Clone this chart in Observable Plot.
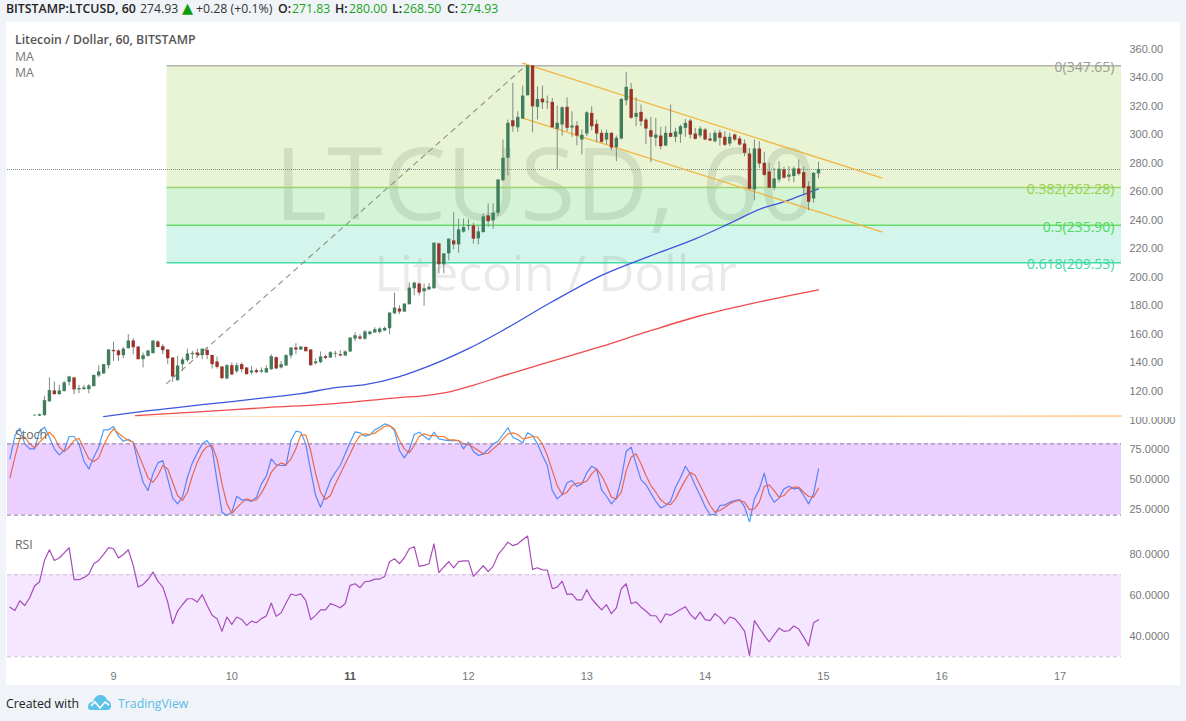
<!DOCTYPE html>
<html>
<head>
<meta charset="utf-8">
<script src="https://cdn.jsdelivr.net/npm/d3@7"></script>
<script src="https://cdn.jsdelivr.net/npm/@observablehq/plot@0.6"></script>
<style>
html,body{margin:0;padding:0;background:#f0f3f8;width:1186px;height:721px;overflow:hidden;font-family:"Open Sans",sans-serif}
#panel{position:absolute;left:6px;top:22px;width:1174px;height:663px;background:#fff}
#root svg{position:absolute;left:0;background:transparent}
.t{position:absolute;white-space:nowrap;line-height:16px}
</style>
</head>
<body>
<div id="panel"></div>
<div id="root"></div>
<div id="labels"></div>
<script>
// hourly candles, first one at hour -16 relative to day 9
const firstHour = -16;
const opens = [102.2,102.0,102.4,112.0,119.7,117.1,119.2,125.7,128.8,120.4,120.6,120.6,122.7,130.2,131.6,137.4,148.1,147.7,144.4,149.3,154.7,150.5,141.6,143.9,145.8,154.0,150.7,148.4,142.8,126.9,138.1,140.9,145.1,146.3,144.4,148.1,144.6,140.0,136.5,128.1,
137.4,133.2,138.1,135.8,132.3,133.9,133.0,132.3,134.6,143.0,135.8,137.2,144.2,149.8,148.4,150.2,148.4,138.8,139.5,143.7,142.8,145.4,145.1,144.2,147.0,156.0,157.5,156.0,159.3,160.3,
160.7,161.7,163.3,173.8,177.1,175.0,180.1,191.3,194.6,189.2,190.6,191.3,222.8,208.1,215.8,224.9,222.1,231.0,234.9,235.4,226.3,230.7,242.4,238.9,244.3,267.1,282.8,309.1,304.2,310.3,
326.6,347.6,318.5,324.3,321.7,322.0,303.1,306.1,318.5,304.0,305.4,295.6,299.8,314.3,306.6,300.3,295.6,300.3,290.2,296.3,323.1,331.0,311.5,315.0,309.6,302.1,296.8,298.4,291.4,300.3,
297.5,299.3,303.8,308.9,299.8,298.4,302.6,296.3,294.4,300.5,297.5,292.8,299.1,296.3,292.8,285.8,260.6,289.3,279.3,273.2,261.8,267.6,274.6,269.5,270.0,275.3,272.7,262.9,254.3,271.83];
const highs = [102.9,103.5,115.9,128.8,126.0,123.6,126.4,130.0,129.2,123.6,123.6,124.1,130.6,137.4,138.1,148.6,154.0,148.6,150.2,159.1,156.3,150.5,146.3,148.1,154.7,154.9,152.1,148.6,142.8,143.9,142.8,149.0,147.4,149.0,149.0,149.8,144.6,143.5,136.5,138.1,
139.3,139.3,139.3,135.8,136.9,135.1,135.8,137.4,145.1,143.5,140.4,145.1,149.8,152.8,150.5,150.5,148.6,142.3,147.0,144.6,147.2,147.4,147.9,147.9,156.8,160.5,159.1,162.1,161.4,164.0,
164.0,164.5,174.3,188.3,179.4,180.6,195.3,196.0,195.3,194.6,194.8,223.3,223.3,215.8,226.1,244.7,240.1,240.3,240.1,237.3,234.9,243.8,250.8,250.8,267.6,295.6,309.6,335.3,315.4,333.4,
347.65,347.65,332.9,333.4,326.4,324.8,319.4,318.9,325.2,315.4,308.4,302.6,315.4,318.9,309.6,302.6,302.6,300.7,298.4,324.8,343.0,335.3,325.2,320.1,310.8,311.5,310.8,304.5,304.9,320.1,
303.8,306.1,310.1,310.1,303.8,304.9,303.8,300.3,301.9,302.6,301.4,300.3,299.8,297.9,295.6,289.8,295.6,294.4,287.0,279.3,275.8,280.4,276.5,276.9,276.9,281.6,276.5,266.4,272.7,280.0];
const lows = [102.0,101.8,101.9,112.0,116.6,116.6,119.0,123.0,117.1,117.8,120.4,117.6,122.5,129.0,131.3,135.0,140.4,140.4,142.3,149.0,145.1,141.4,135.8,143.5,145.8,149.8,145.1,138.1,125.7,126.4,133.4,139.7,141.6,142.8,141.6,141.6,135.0,135.0,127.6,127.6,
130.4,131.8,132.3,130.9,130.9,131.8,131.8,132.0,134.1,134.6,135.1,136.9,142.1,145.1,148.1,147.0,136.9,137.9,138.8,141.6,142.5,142.8,143.5,143.9,146.7,154.2,155.1,155.1,158.4,160.3,
159.6,161.4,159.1,173.1,173.3,174.7,180.1,186.4,186.4,179.0,190.1,191.1,201.6,201.8,210.9,218.6,216.3,230.3,232.1,222.6,222.1,230.3,234.5,233.1,242.0,266.4,270.4,301.0,301.0,310.0,
326.6,300.7,309.6,317.1,317.1,303.8,275.0,298.4,301.4,297.5,291.6,285.1,298.0,302.1,293.7,293.3,292.1,288.1,280.4,295.6,319.6,310.1,305.0,305.0,292.6,279.7,290.9,288.6,290.9,297.5,
293.7,293.3,297.5,296.3,295.6,296.8,295.1,294.7,293.7,291.4,291.0,291.0,294.4,291.4,283.9,260.6,252.9,275.8,269.9,261.8,260.1,265.7,268.3,266.4,265.7,270.4,257.1,245.9,251.3,268.5];
const closes = [102.6,103.0,112.9,119.9,117.1,119.7,125.3,129.5,120.4,121.3,121.8,123.2,130.6,133.0,138.1,148.4,147.2,144.4,149.0,154.7,150.0,141.6,144.4,147.7,154.7,150.2,147.9,142.3,129.5,137.2,141.4,145.6,146.0,144.6,149.0,144.6,138.1,136.2,128.3,137.4,
130.9,137.4,134.6,131.1,133.7,132.5,133.9,135.3,143.7,135.1,138.1,144.4,149.8,148.4,150.5,147.2,137.4,140.0,143.5,142.5,146.5,146.0,144.2,147.0,156.8,158.4,156.1,161.0,161.0,162.6,
163.1,163.5,174.3,177.8,175.0,180.6,191.8,195.3,188.3,191.3,192.5,223.3,208.1,215.8,226.1,222.1,232.6,234.2,235.4,226.1,231.2,241.7,238.4,244.3,267.6,282.8,307.3,304.9,311.5,326.4,
347.6,318.9,324.0,321.7,322.2,304.2,307.3,318.2,303.8,305.4,298.4,298.9,314.7,304.9,299.8,294.0,300.3,290.0,296.8,324.0,332.5,310.8,314.3,308.4,303.3,297.5,299.1,290.9,300.3,297.5,
301.2,304.9,307.3,299.1,296.1,303.3,295.6,294.9,300.3,296.8,291.9,297.5,295.6,292.1,286.3,261.1,289.3,278.8,270.9,261.8,268.3,275.1,268.8,271.1,275.3,271.6,261.8,252.0,272.3,274.93];

// moving averages read at a few hours
const ma1Hours = [-2,4,11,18,24,31,38,45,51,58,61,72,78.5,88.6,98.8,108.9,118,125.2,131.8,135.3,138.7,143];
const ma1Values = [101.7,104.5,107.3,110.1,112.2,115,117.8,122,124.1,129.7,133.2,149.3,161.2,181.5,200.4,214.4,226.3,237.5,248,251.5,255.7,261.3];
const ma2Hours = [4.5,18,31,45,58,63.3,68.4,73.4,78.5,88.6,98.8,108.9,119,129.2,143];
const ma2Values = [102.4,105.2,108,110.8,115,116.4,119.2,124.1,129.7,140.2,150.7,161.9,172.4,180.8,190.6];
const capHours = [4.5,82,204.4];
const capValues = [101.15,101.6,102.1];

// stochastic and RSI, hourly from hour -21
const panelFirstHour = -21;
const stochK = [67.4,87.0,93.2,80,75.8,75.8,90.7,94.0,85.6,75.8,70.7,74.4,86.2,86.2,80,65.4,58.9,68.8,77.2,91.8,91.8,94.6,86.5,82.2,83.9,81.4,63.2,47.7,40.7,54.7,64,65.9,50.5,34.5,29.5,35.1,51.9,64,72.4,80,82.8,75.8,49.1,22.5,19.7,22.5,35.9,32.9,32.9,31.5,35.1,46.3,52.8,67.4,62.3,61.8,61.8,82.8,90.7,89.8,80,57.5,36.5,26.7,37.9,49.1,56.1,61.8,71.6,81.4,90.1,89.3,86.5,87.6,91.8,94,96.8,95.4,91.2,74.4,68.2,74.9,87.9,89.8,
86.5,83.4,89.8,84.2,83.4,82.8,82.8,82.8,75.8,81.4,73.8,70.2,71.6,75.2,80,82.2,87.9,93.5,85.6,83.6,80.8,89.3,87,80,70.2,61.8,40.7,33.7,37.3,47.2,49.1,44.1,46.3,55.6,61.2,58.9,41.3,35.9,29.5,34.5,50.5,73.8,77.2,63.2,49.7,45.8,38.5,31.5,26.1,28.1,31.7,43.5,51.4,61.2,54.7,44.9,36.5,27.2,20.5,20.5,28.1,28.6,30.9,32.3,33.1,27.2,14,33.7,42.1,55.3,37.9,30.9,34.3,42.1,44.4,42.1,42.7,36.5,29.5,37.9,58.9];
const stochD = [51.4,68.8,84.2,85.6,80,76.6,81.4,85.6,89.8,85.6,77.2,73.5,77.2,82.8,84.8,75.8,67.4,65.1,68.2,78.6,87,92.6,89,85.6,82.8,81.4,71.6,61.8,51.4,47.7,53.3,61.8,58.9,47.7,36.5,32.3,39.3,53.3,64.6,73,77.8,78.6,67.4,46.3,29.5,21.6,26.1,30.3,33.7,32.3,32.9,38.5,46.3,56.1,61.2,64,62.3,67.4,75.8,87.6,87.6,74.4,54.7,39.3,33.1,36.5,46.3,54.7,63.2,71.6,80.5,87,88.4,87.9,89,91.8,94.6,95.4,92.6,82.8,75.8,72.4,78.6,86.2,
88.4,87,87,86.2,86.2,83.4,83.4,82.8,80,79.4,77.2,74.4,71.6,72.1,75.8,79.4,84.2,88.4,89.3,87.9,84.2,85,86.2,85.6,80,70.2,57.5,44.9,37.3,39.3,44.9,46.9,47.2,48.6,54.7,58.9,53.3,44.9,35.1,33.7,39.3,57.5,68.8,71.6,63.2,53.3,44.9,39.3,32.9,29.5,28.9,33.7,42.1,49.7,56.1,53.3,44.9,36.5,28.1,22.5,23.9,26.7,29.5,31.5,32.3,30.9,24.7,25.3,30.9,44.1,45.5,40.7,35.1,36.5,41.3,43.5,43.5,39.3,35.7,35.1,42.7];
const rsi = [54.2,52.6,57.3,55,58.8,64.5,66.6,77,82.2,77,78.2,80.7,83.2,67.6,67.6,68.6,70.2,75.4,77,79.9,83.2,82.7,78.2,79.9,82.2,74.6,64,65.3,67.7,71.3,66.9,64,56.7,46.1,52.3,55.5,58.3,58.3,56.7,60.3,55,50.2,48.6,42.4,49.4,45.8,49.4,48.2,45.3,47.4,46.6,48.6,49.9,56.2,49.7,51.5,56.2,60.6,59.9,60.7,57.5,48.1,50.2,52.9,52.9,55.9,55,53.9,55.9,64.8,65.6,63.7,66.6,66.9,67.9,67.9,69.2,76.4,77.8,75.4,78.3,82.7,83.7,74.1,
74.6,75.4,85.1,71,73.8,76.4,73.4,76.4,76.8,76.8,69.2,71.8,74.4,71.5,74.1,79.8,82.7,85.9,84.2,85.1,87.1,88.9,72.6,73.4,72.4,72.3,63.2,64,66.9,60.4,60.7,57.8,57.8,62.7,58.3,55.5,52.9,55.4,51,53.8,63.2,65.6,55.9,56.7,54.2,52.3,50,50,46.6,51,50.2,51.6,53.1,54.4,50.7,48.4,51.8,48.1,47.6,51,49.1,46.1,49.4,48.6,45.8,42.5,30.7,47.6,44,40.4,37.3,40.7,44,42.4,42.7,45,43.5,39.6,35.4,46.6,48.1];

// drawings
const trendHours = [10.75,83.6];
const trendValues = [124.8,347.65];
const channelHours = [83,155.8];
const upperValues = [349.5,269];
const lowerValues = [311,231.2];
const fibLevels = [347.65,262.28,235.90,209.53];
const fibNames = ["0(347.65)","0.382(262.28)","0.5(235.90)","0.618(209.53)"];
const fibLines = ["#b4b4ac","#9bd36c","#62dc62","#45dcaa"];
const fibText = ["#9c9c94","#9bd048","#4ed85e","#3ed8a6"];
const fibFills = ["#e9f4d4","#d4f4d7","#d4f5eb"];
const fibStartHour = 10.85;
const lastPrice = 274.93;

const priceTicks = [120,140,160,180,200,220,240,260,280,300,320,340,360];
const stochTicks = [25,50,75,100];
const rsiTicks = [40,60,80];
const dayHours = [0,24,48,72,96,120,144,168,192];
const dayNames = ["9","10","11","12","13","14","15","16","17"];
const boldDay = "11";

const xDomain = [-21.5,204.46];
const axisFont = "Liberation Sans";
const axisGrey = "#787878";

const candles = opens.map((o,i)=>({h:firstHour+i,o,hi:highs[i],lo:lows[i],c:closes[i]}));
const zip = (xs,ys)=>xs.map((x,i)=>({x,y:ys[i]}));
const ma1 = zip(ma1Hours,ma1Values);
const ma2 = zip(ma2Hours,ma2Values);
const fibBands = fibFills.map((fill,i)=>({y1:fibLevels[i],y2:fibLevels[i+1],fill}));
const fibRows = fibNames.map((name,i)=>({name,v:fibLevels[i],line:fibLines[i],tc:fibText[i]}));

function base(extra){
  return Object.assign({width:1186,marginLeft:7,marginRight:65,marginTop:0,marginBottom:0,
    style:{background:"transparent",fontFamily:axisFont}},extra);
}
function rightAxis(ticks,fmt,dy=0){
  return Plot.axisY({anchor:"right",ticks,tickSize:0,tickPadding:8,tickFormat:fmt,label:null,fontSize:11,fill:axisGrey,dy});
}
function place(svg,top){svg.style.top=top+"px";document.getElementById("root").appendChild(svg);}

// price pane
place(Plot.plot(base({
  height:395,
  x:{domain:xDomain,axis:null},
  y:{domain:[101.06,378.0]},
  marks:[
    Plot.rect(fibBands,{x1:fibStartHour,x2:xDomain[1],y1:"y1",y2:"y2",fill:d=>d.fill}),
    Plot.text(["LTCUSD, 60"],{x:87.6,y:262,text:d=>d,fontSize:101,fontFamily:"Open Sans",fill:"#2c4a2c",fillOpacity:0.12}),
    Plot.text(["Litecoin / Dollar"],{x:89.7,y:201,text:d=>d,fontSize:49.5,fontFamily:"Open Sans",fill:"#333",fillOpacity:0.1}),
    Plot.ruleY(fibRows,{y:"v",x1:fibStartHour,x2:xDomain[1],stroke:d=>d.line,strokeWidth:1.4}),
    Plot.ruleY([lastPrice],{stroke:"#7f9186",strokeWidth:1,strokeDasharray:"1 1"}),
    Plot.line(zip(trendHours,trendValues),{x:"x",y:"y",stroke:"#8f8f8a",strokeWidth:1.1,strokeDasharray:"5 5"}),
    Plot.line(zip(capHours,capValues),{x:"x",y:"y",stroke:"#ffc77e",strokeWidth:1.3}),
    Plot.line(ma2,{x:"x",y:"y",stroke:"#f04a4a",strokeWidth:1.3,curve:"monotone-x"}),
    Plot.line(ma1,{x:"x",y:"y",stroke:"#3f55e0",strokeWidth:1.3,curve:"monotone-x"}),
    Plot.line(zip(channelHours,upperValues),{x:"x",y:"y",stroke:"#f2b544",strokeWidth:1.3}),
    Plot.line(zip(channelHours,lowerValues),{x:"x",y:"y",stroke:"#f2b544",strokeWidth:1.3}),
    Plot.ruleX(candles,{x:"h",y1:"lo",y2:"hi",stroke:"#7d8a84",strokeWidth:1}),
    Plot.ruleX(candles,{x:"h",y1:"o",y2:"c",stroke:d=>d.c>=d.o?"#3f7d5c":"#9c3228",strokeWidth:3.4}),
    Plot.text(fibRows,{x:xDomain[1],dx:-7,dy:2,y:"v",text:"name",textAnchor:"end",fontSize:14,fontFamily:"Open Sans",fill:d=>d.tc}),
    rightAxis(priceTicks,d=>d.toFixed(2),1)
  ]
})),22);

// stochastic pane
const kRows = stochK.map((y,i)=>({x:panelFirstHour+i,y}));
const dRows = stochD.map((y,i)=>({x:panelFirstHour+i,y}));
place(Plot.plot(base({
  height:105,
  x:{domain:xDomain,axis:null},
  y:{domain:[13.8,102.2]},
  marks:[
    Plot.line(kRows,{x:"x",y:"y",stroke:"#4a9ff5",strokeWidth:1.2}),
    Plot.line(dRows,{x:"x",y:"y",stroke:"#f57c2e",strokeWidth:1.2}),
    Plot.rectY([0],{x1:xDomain[0],x2:xDomain[1],y1:20,y2:80,fill:"#9915ff",fillOpacity:0.2}),
    Plot.ruleY([20,80],{stroke:"#8a7a96",strokeWidth:1,strokeDasharray:"4 3"}),
    rightAxis(stochTicks,d=>d.toFixed(4))
  ]
})),417);

// RSI pane with the day axis
const rsiRows = rsi.map((y,i)=>({x:panelFirstHour+i,y}));
place(Plot.plot(base({
  height:163,
  marginBottom:23,
  x:{domain:xDomain},
  y:{domain:[27.2,95.5]},
  marks:[
    Plot.rectY([0],{x1:xDomain[0],x2:xDomain[1],y1:30,y2:70,fill:"#9915ff",fillOpacity:0.1}),
    Plot.ruleY([30,70],{stroke:"#cdbfd8",strokeWidth:1,strokeDasharray:"4 3"}),
    Plot.line(rsiRows,{x:"x",y:"y",stroke:"#a64dba",strokeWidth:1.2}),
    rightAxis(rsiTicks,d=>d.toFixed(4)),
    Plot.axisX({ticks:dayHours.filter((_,i)=>dayNames[i]!==boldDay),tickSize:0,tickPadding:10,label:null,
      tickFormat:h=>dayNames[dayHours.indexOf(h)],fontSize:11,fill:axisGrey}),
    Plot.axisX({ticks:dayHours.filter((_,i)=>dayNames[i]===boldDay),tickSize:0,tickPadding:10,label:null,
      tickFormat:h=>dayNames[dayHours.indexOf(h)],fontSize:11,fontWeight:"bold",fill:"#555"})
  ]
})),522);

// header and pane captions
const headerSize = 12.3;
const headerBits = [
  ["BITSTAMP:LTCUSD, 60",6,"#222",600],["274.93",140,"#333",400],["+0.28 (+0.1%)",196,"#333",400],
  ["O:",278,"#222",600],["271.83",292,"#1aa51a",400],["H:",335,"#222",600],["280.00",349,"#1aa51a",400],
  ["L:",392,"#222",600],["268.50",403,"#1aa51a",400],["C:",447,"#222",600],["274.93",460,"#1aa51a",400]
];
const captions = [
  ["Litecoin / Dollar, 60, BITSTAMP",15,32,"#555",600,12.3],["MA",15,49,"#777",400,12.3],["MA",15,65,"#777",400,12.3],
  ["Stoch",15,427,"#666",400,12.3],["RSI",15,537,"#666",400,12.3],
  ["Created with",6,696,"#222",400,12.3],["TradingView",118,696,"#5bbde6",400,12.3]
];
const lab = document.getElementById("labels");
function addText(text,left,top,color,weight,size){
  const s=document.createElement("span");s.className="t";s.textContent=text;
  s.style.cssText=`left:${left}px;top:${top}px;color:${color};font-weight:${weight};font-size:${size}px`;lab.appendChild(s);
  return s;
}
headerBits.forEach(b=>addText(b[0],b[1],1,b[2],b[3],headerSize));
addText("▲",182,0,"#0a9a0a",400,14.3).style.fontFamily="DejaVu Sans";
captions.forEach(c=>addText(c[0],c[1],c[2],c[3],c[4],c[5]));
lab.insertAdjacentHTML("beforeend",`<svg style="position:absolute;left:87px;top:694px" width="25" height="17" viewBox="0 0 25 17"><path d="M1 13c0-3 2-5 5-5 1-4 4-7 7-7 4 0 6 2 7 5 3 1 4 3 4 6 0 3-2 4-4 4H4c-2 0-3-1-3-3z" fill="#5bc3ea"/><path d="M4 12l4-4 5 6 5-6 4 3" fill="none" stroke="#fff" stroke-width="1.6"/></svg>`);
</script>
</body>
</html>
